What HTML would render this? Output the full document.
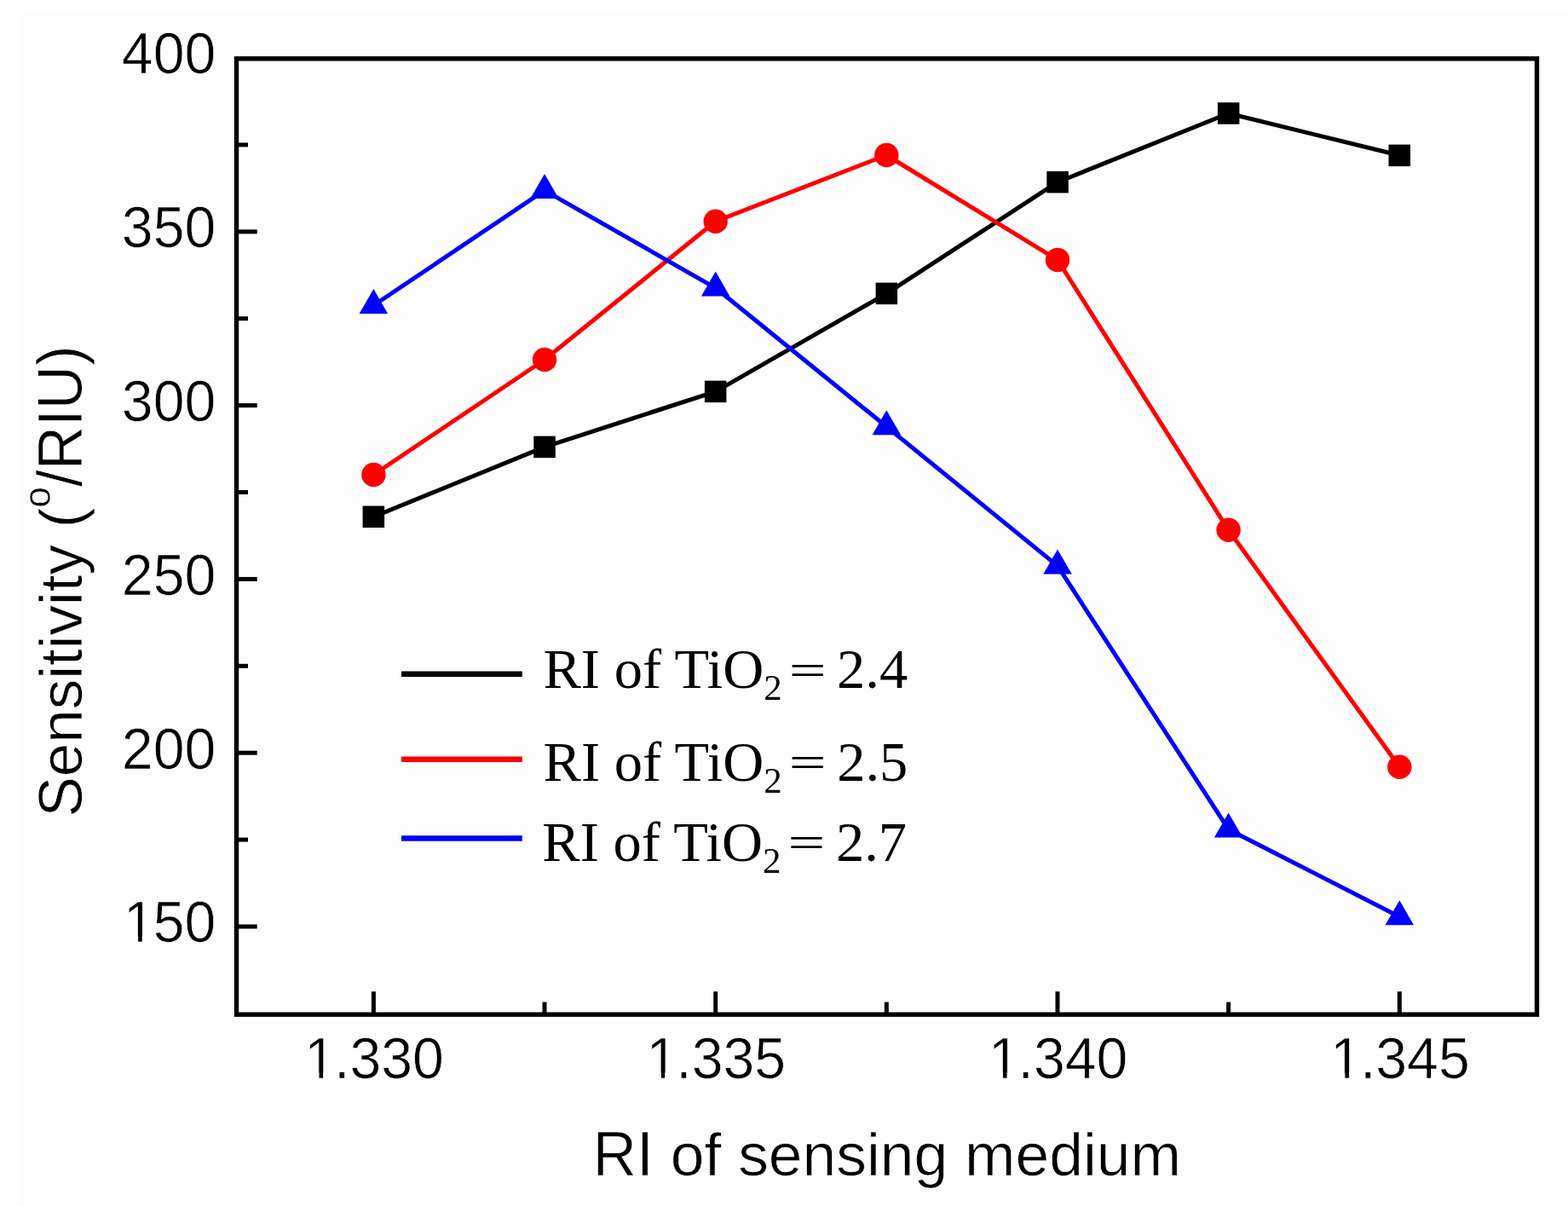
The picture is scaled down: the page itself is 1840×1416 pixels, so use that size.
<!DOCTYPE html>
<html lang="en"><head><meta charset="utf-8"><title>Sensitivity vs RI of sensing medium</title>
<style>html,body{margin:0;padding:0;background:#fff;}body{width:1840px;height:1416px;overflow:hidden;}svg{display:block;}</style>
</head><body>
<svg width="1840" height="1416" viewBox="0 0 1840 1416">
<rect x="0" y="0" width="1840" height="1416" fill="#ffffff"/>
<rect x="24" y="13" width="1816" height="1403" fill="#fdfdfd"/>
<polyline points="438.4,606.3 639.0,524.4 839.7,459.3 1040.3,344.4 1241.0,213.7 1441.6,133.0 1642.3,182.3" fill="none" stroke="#000000" stroke-width="5" stroke-linejoin="round"/>
<rect x="425.6" y="593.5" width="25.5" height="25.5" fill="#000000"/>
<rect x="626.3" y="511.6" width="25.5" height="25.5" fill="#000000"/>
<rect x="826.9" y="446.6" width="25.5" height="25.5" fill="#000000"/>
<rect x="1027.6" y="331.6" width="25.5" height="25.5" fill="#000000"/>
<rect x="1228.3" y="200.9" width="25.5" height="25.5" fill="#000000"/>
<rect x="1428.9" y="120.2" width="25.5" height="25.5" fill="#000000"/>
<rect x="1629.5" y="169.6" width="25.5" height="25.5" fill="#000000"/>
<polyline points="438.4,557.0 639.0,422.0 839.7,259.7 1040.3,182.0 1241.0,304.9 1441.6,621.8 1642.3,899.8" fill="none" stroke="#ff0000" stroke-width="5" stroke-linejoin="round"/>
<circle cx="438.4" cy="557.0" r="14.2" fill="#ff0000"/>
<circle cx="639.0" cy="422.0" r="14.2" fill="#ff0000"/>
<circle cx="839.7" cy="259.7" r="14.2" fill="#ff0000"/>
<circle cx="1040.3" cy="182.0" r="14.2" fill="#ff0000"/>
<circle cx="1241.0" cy="304.9" r="14.2" fill="#ff0000"/>
<circle cx="1441.6" cy="621.8" r="14.2" fill="#ff0000"/>
<circle cx="1642.3" cy="899.8" r="14.2" fill="#ff0000"/>
<polyline points="438.4,358.3 639.0,223.4 839.7,337.8 1040.3,500.5 1241.0,663.9 1441.6,972.9 1642.3,1075.6" fill="none" stroke="#0000ff" stroke-width="5" stroke-linejoin="round"/>
<polygon points="438.4,339.0 455.1,368.0 421.6,368.0" fill="#0000ff"/>
<polygon points="639.0,204.1 655.8,233.1 622.3,233.1" fill="#0000ff"/>
<polygon points="839.7,318.5 856.4,347.5 822.9,347.5" fill="#0000ff"/>
<polygon points="1040.3,481.2 1057.1,510.2 1023.6,510.2" fill="#0000ff"/>
<polygon points="1241.0,644.6 1257.8,673.6 1224.3,673.6" fill="#0000ff"/>
<polygon points="1441.6,953.6 1458.4,982.6 1424.9,982.6" fill="#0000ff"/>
<polygon points="1642.3,1056.3 1659.0,1085.3 1625.5,1085.3" fill="#0000ff"/>
<rect x="277.5" y="68.8" width="1526.0" height="1121.4" fill="none" stroke="#000" stroke-width="5.4"/>
<line x1="438.4" y1="1190.2" x2="438.4" y2="1163.2" stroke="#000" stroke-width="5"/>
<line x1="839.7" y1="1190.2" x2="839.7" y2="1163.2" stroke="#000" stroke-width="5"/>
<line x1="1241.0" y1="1190.2" x2="1241.0" y2="1163.2" stroke="#000" stroke-width="5"/>
<line x1="1642.3" y1="1190.2" x2="1642.3" y2="1163.2" stroke="#000" stroke-width="5"/>
<line x1="639.0" y1="1190.2" x2="639.0" y2="1175.6" stroke="#000" stroke-width="5"/>
<line x1="1040.3" y1="1190.2" x2="1040.3" y2="1175.6" stroke="#000" stroke-width="5"/>
<line x1="1441.6" y1="1190.2" x2="1441.6" y2="1175.6" stroke="#000" stroke-width="5"/>
<line x1="277.5" y1="1087.0" x2="301.7" y2="1087.0" stroke="#000" stroke-width="5"/>
<line x1="277.5" y1="883.2" x2="301.7" y2="883.2" stroke="#000" stroke-width="5"/>
<line x1="277.5" y1="679.4" x2="301.7" y2="679.4" stroke="#000" stroke-width="5"/>
<line x1="277.5" y1="475.6" x2="301.7" y2="475.6" stroke="#000" stroke-width="5"/>
<line x1="277.5" y1="271.8" x2="301.7" y2="271.8" stroke="#000" stroke-width="5"/>
<line x1="277.5" y1="985.1" x2="291.0" y2="985.1" stroke="#000" stroke-width="5"/>
<line x1="277.5" y1="781.3" x2="291.0" y2="781.3" stroke="#000" stroke-width="5"/>
<line x1="277.5" y1="577.5" x2="291.0" y2="577.5" stroke="#000" stroke-width="5"/>
<line x1="277.5" y1="373.7" x2="291.0" y2="373.7" stroke="#000" stroke-width="5"/>
<line x1="277.5" y1="169.9" x2="291.0" y2="169.9" stroke="#000" stroke-width="5"/>
<g font-family="'Liberation Sans', Arial, Helvetica, sans-serif" font-size="66.2" fill="#000" stroke="#fdfdfd" stroke-width="0.7">
<g transform="translate(438.00,1265.40) scale(1,1.03)"><text x="-80.83 -46.01 -27.62 9.20 46.01" y="0">1.330</text><rect x="-76.79" y="-6.2" width="12.90" height="7" fill="#fdfdfd"/><rect x="-58.63" y="-6.2" width="12.39" height="7" fill="#fdfdfd"/></g>
<g transform="translate(839.30,1265.40) scale(1,1.03)"><text x="-80.83 -46.01 -27.62 9.20 46.01" y="0">1.335</text><rect x="-76.79" y="-6.2" width="12.90" height="7" fill="#fdfdfd"/><rect x="-58.63" y="-6.2" width="12.39" height="7" fill="#fdfdfd"/></g>
<g transform="translate(1240.60,1265.40) scale(1,1.03)"><text x="-80.83 -46.01 -27.62 9.20 46.01" y="0">1.340</text><rect x="-76.79" y="-6.2" width="12.90" height="7" fill="#fdfdfd"/><rect x="-58.63" y="-6.2" width="12.39" height="7" fill="#fdfdfd"/></g>
<g transform="translate(1641.90,1265.40) scale(1,1.03)"><text x="-80.83 -46.01 -27.62 9.20 46.01" y="0">1.345</text><rect x="-76.79" y="-6.2" width="12.90" height="7" fill="#fdfdfd"/><rect x="-58.63" y="-6.2" width="12.39" height="7" fill="#fdfdfd"/></g>
<g transform="translate(253.30,1105.30) scale(1,1.03)"><text x="-108.45 -73.63 -36.82" y="0">150</text><rect x="-104.41" y="-6.2" width="12.90" height="7" fill="#fdfdfd"/><rect x="-86.25" y="-6.2" width="12.39" height="7" fill="#fdfdfd"/></g>
<g transform="translate(253.30,901.50) scale(1,1.03)"><text x="-110.45 -73.63 -36.82" y="0">200</text></g>
<g transform="translate(253.30,697.70) scale(1,1.03)"><text x="-110.45 -73.63 -36.82" y="0">250</text></g>
<g transform="translate(253.30,493.90) scale(1,1.03)"><text x="-110.45 -73.63 -36.82" y="0">300</text></g>
<g transform="translate(253.30,290.10) scale(1,1.03)"><text x="-110.45 -73.63 -36.82" y="0">350</text></g>
<g transform="translate(253.30,86.30) scale(1,1.03)"><text x="-110.45 -73.63 -36.82" y="0">400</text></g>
</g>
<g font-family="'Liberation Sans', Arial, Helvetica, sans-serif" font-size="71.4" fill="#000" stroke="#fdfdfd" stroke-width="0.7">
<text transform="translate(695.54,1378.5) scale(1,1.041)">RI</text>
<text transform="translate(766.93,1378.5) scale(1,0.985)" xml:space="preserve"> of sensing medium</text>
</g>
<g transform="translate(96.4,682) rotate(-90)" font-family="'Liberation Sans', Arial, Helvetica, sans-serif" font-size="71" fill="#000" stroke="#fdfdfd" stroke-width="0.7">
<text transform="translate(-276.56,0) scale(1,1.028)">S</text>
<text transform="translate(-229.22,0) scale(1,0.985)" xml:space="preserve">ensitivity (</text>
<text transform="translate(86.22,-37.8) scale(1,0.985)" font-size="44.5">o</text>
<text transform="translate(110.91,0) scale(1,1.041)">/RIU)</text>
</g>
<g font-family="'Liberation Serif', 'Times New Roman', Times, serif" font-size="66.5" fill="#000">
<line x1="471" y1="790.8" x2="612.8" y2="790.8" stroke="#000000" stroke-width="6.5"/>
<text x="637.5" y="807.4">RI of TiO<tspan font-size="43" dy="14">2</tspan></text>
<text transform="translate(947.6,804.1) scale(1.17,0.8)" text-anchor="middle">=</text>
<text x="982.1" y="807.4">2.4</text>
<line x1="471" y1="890.8" x2="612.8" y2="890.8" stroke="#ff0000" stroke-width="6.5"/>
<text x="637.6" y="916.4">RI of TiO<tspan font-size="43" dy="14">2</tspan></text>
<text transform="translate(947.7,912.1) scale(1.17,0.8)" text-anchor="middle">=</text>
<text x="982.2" y="916.4">2.5</text>
<line x1="471" y1="983.6" x2="612.8" y2="983.6" stroke="#0000ff" stroke-width="6.5"/>
<text x="636.3" y="1010.3">RI of TiO<tspan font-size="43" dy="14">2</tspan></text>
<text transform="translate(946.4,1006.0) scale(1.17,0.8)" text-anchor="middle">=</text>
<text x="980.9" y="1010.3">2.7</text>
</g>
</svg>
</body></html>
